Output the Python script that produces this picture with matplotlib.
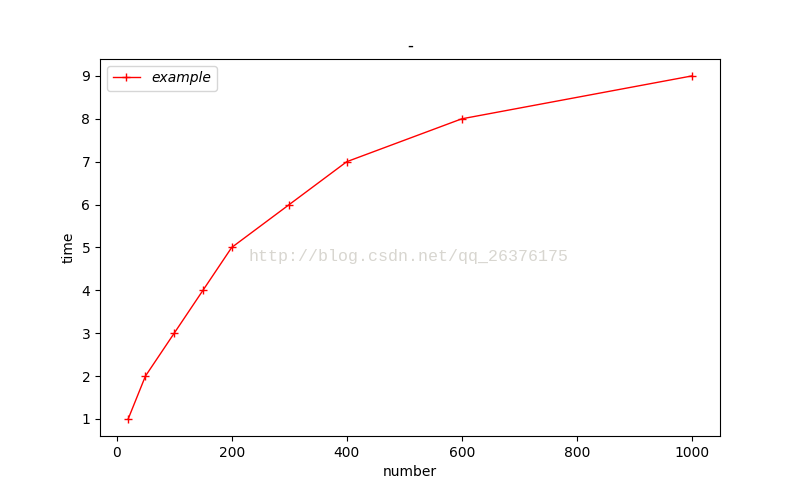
import matplotlib
matplotlib.use('Agg')
import matplotlib.pyplot as plt

#%% DATA
# ----------------------
number = [20, 50, 100, 150, 200, 300, 400, 600, 1000]
time = [1, 2, 3, 4, 5, 6, 7, 8, 9]
# ----------------------

#%% PLOT
# ----------------------
fig = plt.figure(figsize=(8, 4.9), dpi=100)
ax = fig.add_subplot(111)
ax.plot(number, time, color='red', marker='+', linewidth=1, label='example')
ax.set_title('-')
ax.set_xlabel('number')
ax.set_ylabel('time')
ax.legend(loc='upper left', prop={'style': 'italic'})
# watermark
fig.text(0.31, 0.477, 'http://blog.csdn.net/qq_26376175', family='Liberation Mono',
         fontsize=12, color='#d8d6d0', va='center', ha='left')
fig.savefig('out.png')
# ----------------------
